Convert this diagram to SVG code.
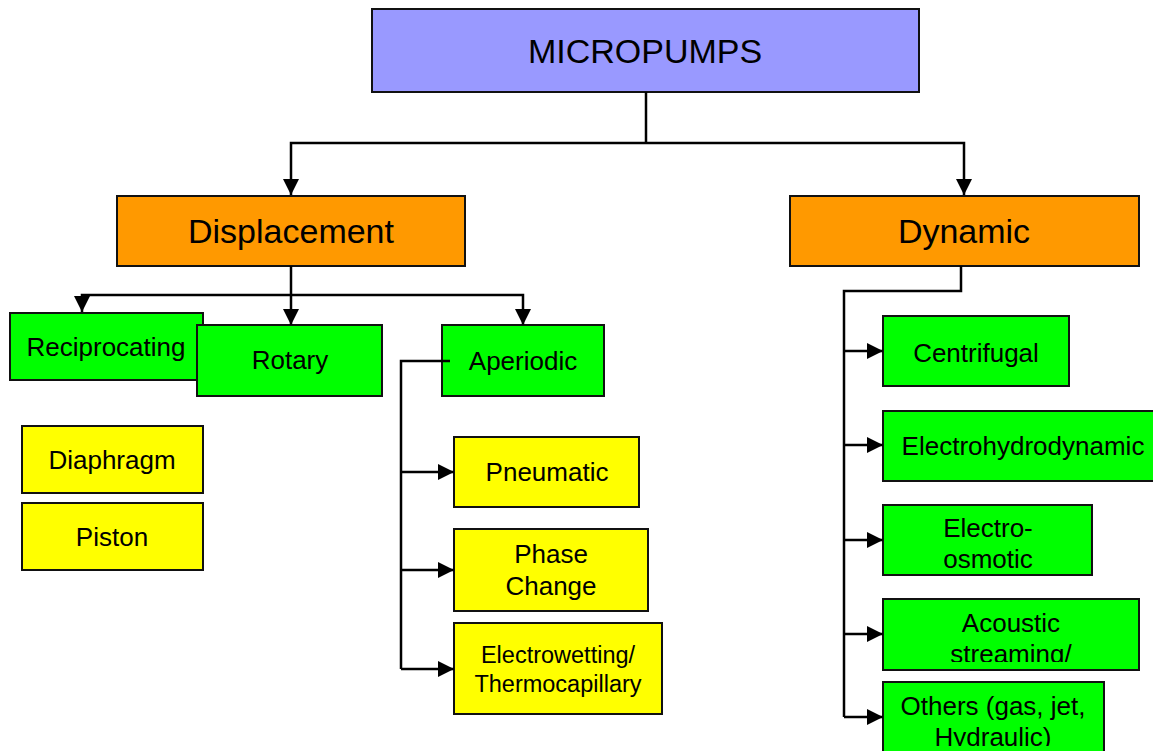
<svg xmlns="http://www.w3.org/2000/svg" width="1153" height="751" viewBox="0 0 1153 751">
<style>
.box{stroke:#111;stroke-width:2}
.top{fill:#9999ff}
.mid{fill:#ff9900}
.grn{fill:#00ff00}
.yel{fill:#ffff00}
text{font-family:"Liberation Sans",Arial,sans-serif;fill:#000;text-anchor:middle}
.big{font-size:34px}
.n{font-size:26px}
.s{font-size:23.5px}
.c{fill:none;stroke:#000;stroke-width:2.5}
</style>
<defs>
<marker id="ah" viewBox="0 0 16 16" refX="16" refY="8" markerWidth="16" markerHeight="16" markerUnits="userSpaceOnUse" orient="auto">
<path d="M0,0 L16,8 L0,16 Z" fill="#000"/>
</marker>
<clipPath id="clipAc"><rect x="883" y="599" width="257" height="63"/></clipPath>
<clipPath id="clipOt"><rect x="883" y="682" width="222" height="64"/></clipPath>
</defs>
<rect width="1153" height="751" fill="#fff"/>
<g id="micropumps"><rect class="box top" x="372" y="9" width="547" height="83"/><text class="big" x="645" y="63">MICROPUMPS</text></g>
<g id="displacement"><rect class="box mid" x="117" y="196" width="348" height="70"/><text class="big" x="291" y="243">Displacement</text></g>
<g id="dynamic"><rect class="box mid" x="790" y="196" width="349" height="70"/><text class="big" x="964" y="243">Dynamic</text></g>
<g id="reciprocating"><rect class="box grn" x="10" y="313" width="193" height="67"/><text class="n" x="106" y="356">Reciprocating</text></g>
<g id="rotary"><rect class="box grn" x="197" y="325" width="185" height="71"/><text class="n" x="290" y="369">Rotary</text></g>
<g id="aperiodic"><rect class="box grn" x="442" y="325" width="162" height="71"/><text class="n" x="523" y="370">Aperiodic</text></g>
<g id="diaphragm"><rect class="box yel" x="22" y="426" width="181" height="67"/><text class="n" x="112" y="469">Diaphragm</text></g>
<g id="piston"><rect class="box yel" x="22" y="503" width="181" height="67"/><text class="n" x="112" y="546">Piston</text></g>
<g id="pneumatic"><rect class="box yel" x="454" y="437" width="185" height="70"/><text class="n" x="547" y="481">Pneumatic</text></g>
<g id="phase-change"><rect class="box yel" x="454" y="529" width="194" height="82"/><text class="n" x="551" y="563">Phase</text><text class="n" x="551" y="595">Change</text></g>
<g id="electrowetting"><rect class="box yel" x="454" y="623" width="208" height="91"/><text class="s" x="558" y="663">Electrowetting/</text><text class="s" x="558" y="692">Thermocapillary</text></g>
<g id="centrifugal"><rect class="box grn" x="883" y="316" width="186" height="70"/><text class="n" x="976" y="362">Centrifugal</text></g>
<g id="electrohydrodynamic"><rect class="box grn" x="883" y="411" width="280" height="70"/><text class="n" x="1023" y="455">Electrohydrodynamic</text></g>
<g id="electroosmotic"><rect class="box grn" x="883" y="505" width="209" height="70"/><text class="n" x="988" y="537">Electro-</text><text class="n" x="988" y="568">osmotic</text></g>
<g id="acoustic"><rect class="box grn" x="883" y="599" width="256" height="71"/><g clip-path="url(#clipAc)"><text class="n" x="1011" y="632">Acoustic</text><text class="n" x="1011" y="663">streaming/</text></g></g>
<g id="others"><rect class="box grn" x="883" y="682" width="221" height="80"/><g clip-path="url(#clipOt)"><text class="n" x="993" y="715">Others (gas, jet,</text><text class="n" x="993" y="746">Hydraulic)</text></g></g>
<g id="connectors">
<path class="c" d="M646,92 V143"/>
<path class="c" d="M646,143 H291 V195" marker-end="url(#ah)"/>
<path class="c" d="M646,143 H964 V195" marker-end="url(#ah)"/>
<path class="c" d="M291,266 V295"/>
<path class="c" d="M291,295 H82 V312" marker-end="url(#ah)"/>
<path class="c" d="M291,295 V325" marker-end="url(#ah)"/>
<path class="c" d="M291,295 H523 V325" marker-end="url(#ah)"/>
<path class="c" d="M450,361 H401 V669"/>
<path class="c" d="M401,472 H454" marker-end="url(#ah)"/>
<path class="c" d="M401,570 H454" marker-end="url(#ah)"/>
<path class="c" d="M401,669 H454" marker-end="url(#ah)"/>
<path class="c" d="M961,266 V291 H844 V717"/>
<path class="c" d="M844,351 H883" marker-end="url(#ah)"/>
<path class="c" d="M844,445 H883" marker-end="url(#ah)"/>
<path class="c" d="M844,540 H883" marker-end="url(#ah)"/>
<path class="c" d="M844,634 H883" marker-end="url(#ah)"/>
<path class="c" d="M844,717 H883" marker-end="url(#ah)"/>
</g>
</svg>
